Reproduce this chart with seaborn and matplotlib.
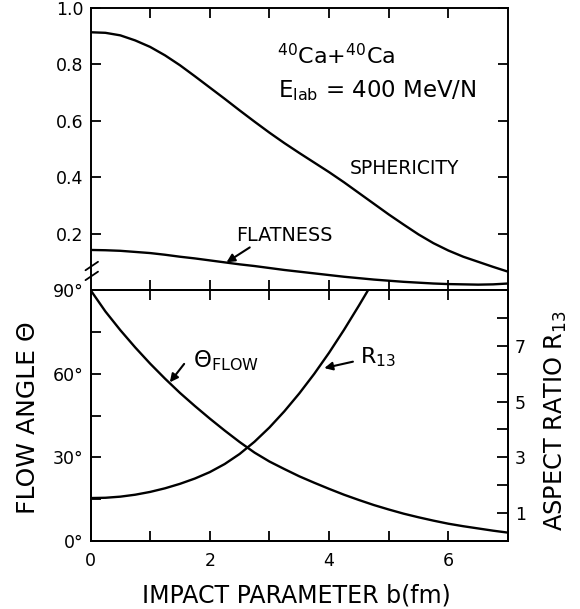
import numpy as np
import pandas as pd
import matplotlib
matplotlib.use("Agg")
import matplotlib.pyplot as plt
import seaborn as sns

# ---- data ----
b = [0, 0.25, 0.5, 0.75, 1, 1.25, 1.5, 1.75, 2, 2.25, 2.5, 2.75, 3, 3.25, 3.5,
     3.75, 4, 4.25, 4.5, 4.75, 5, 5.25, 5.5, 5.75, 6, 6.25, 6.5, 6.75, 7]
sphericity = [0.914, 0.912, 0.903, 0.885, 0.862, 0.832, 0.797, 0.758, 0.718,
              0.678, 0.637, 0.597, 0.558, 0.521, 0.486, 0.452, 0.418, 0.382,
              0.344, 0.306, 0.268, 0.232, 0.197, 0.166, 0.140, 0.118, 0.100,
              0.082, 0.065]
flatness = [0.142, 0.141, 0.139, 0.135, 0.131, 0.125, 0.118, 0.112, 0.105,
            0.098, 0.091, 0.085, 0.078, 0.071, 0.065, 0.059, 0.053, 0.047,
            0.042, 0.037, 0.033, 0.029, 0.026, 0.023, 0.021, 0.020, 0.019,
            0.020, 0.023]
flow_angle = [90, 82.3, 75.6, 69.4, 63.6, 58.2, 53.1, 48.4, 43.9, 39.6, 35.5,
              31.7, 28.5, 25.8, 23.2, 20.9, 18.7, 16.6, 14.7, 12.9, 11.3, 9.8,
              8.5, 7.3, 6.2, 5.3, 4.5, 3.7, 3.0]
b_r13 = [0, 0.25, 0.5, 0.75, 1, 1.25, 1.5, 1.75, 2, 2.25, 2.5, 2.75, 3, 3.25,
         3.5, 3.75, 4, 4.25, 4.5, 4.75]
r13 = [1.54, 1.55, 1.59, 1.66, 1.76, 1.89, 2.05, 2.24, 2.47, 2.76, 3.12, 3.56,
       4.07, 4.65, 5.29, 5.99, 6.75, 7.57, 8.44, 9.34]

top_yticks = [0.2, 0.4, 0.6, 0.8, 1.0]
top_ylabels = ["0.2", "0.4", "0.6", "0.8", "1.0"]
angle_major = [0, 30, 60, 90]
angle_labels = ["0°", "30°", "60°", "90°"]
angle_minor = [15, 45, 75]
r_major = [1, 3, 5, 7]
r_labels = ["1", "3", "5", "7"]
r_minor = [2, 4, 6, 8]
x_major = [0, 2, 4, 6]
x_labels = ["0", "2", "4", "6"]
x_minor = [1, 3, 5]

sns.set_style("ticks")
plt.rcParams["font.family"] = ["DejaVu Sans"]
for k in ("text.color", "axes.labelcolor", "xtick.color", "ytick.color",
          "axes.edgecolor"):
    plt.rcParams[k] = "black"

W, H = 580, 609
fig = plt.figure(figsize=(W / 100, H / 100), dpi=100)

def fx(px):
    return px / W

def fy(py):
    return 1 - py / H

L, R = 90.5, 508
ax1 = fig.add_axes([fx(L), fy(290), fx(R) - fx(L), fy(8) - fy(290)])
ax2 = fig.add_axes([fx(L), fy(541), fx(R) - fx(L), fy(290) - fy(541)])
ax3 = ax2.twinx()

lw = 1.7
df_top = pd.DataFrame({"b": b, "sph": sphericity, "flat": flatness, "flow": flow_angle})
df_r = pd.DataFrame({"b": b_r13, "r13": r13})
sns.lineplot(data=df_top, x="b", y="sph", ax=ax1, color="black", lw=lw)
sns.lineplot(data=df_top, x="b", y="flat", ax=ax1, color="black", lw=lw)
sns.lineplot(data=df_top, x="b", y="flow", ax=ax2, color="black", lw=lw)
sns.lineplot(data=df_r, x="b", y="r13", ax=ax3, color="black", lw=lw)

for ax in (ax1, ax2, ax3):
    for s in ax.spines.values():
        s.set_visible(True)
        s.set_linewidth(1.4)
        s.set_color("black")
    ax.set_xlabel("")
    ax.set_ylabel("")

ax1.set_xlim(0, 7)
ax1.set_ylim(0, 1.0)
ax1.set_xticks(list(range(1, 7)))
ax1.set_yticks(top_yticks)
ax1.set_yticklabels(top_ylabels)
ax1.tick_params(direction="in", length=7, width=1.3, top=True, bottom=True,
                left=True, right=True, labelbottom=False, labelsize=12.5,
                pad=5, colors="black")

ax2.set_xlim(0, 7)
ax2.set_ylim(0, 90)
ax2.set_xticks(x_major)
ax2.set_xticklabels(x_labels)
ax2.set_xticks(x_minor, minor=True)
ax2.set_yticks(angle_major)
ax2.set_yticklabels(angle_labels)
ax2.set_yticks(angle_minor, minor=True)
ax2.tick_params(which="both", direction="in", length=7, width=1.3, top=True,
                bottom=True, left=True, right=False, labelsize=12.5, pad=5)
ax2.tick_params(axis="x", pad=8)

ax3.set_ylim(0, 9)
ax3.set_yticks(r_major)
ax3.set_yticklabels(r_labels)
ax3.set_yticks(r_minor, minor=True)
ax3.tick_params(which="both", direction="in", length=8, width=1.3,
                labelsize=12.5, pad=5)

# break marks on left spine
for dy in (0.0, 0.035):
    ax1.plot([-0.012, 0.018], [0.035 + dy, 0.065 + dy], transform=ax1.transAxes,
             color="black", lw=1.3, clip_on=False)

# annotations top panel
ax1.text(3.12, 0.80, r"$^{40}$Ca$+^{40}$Ca", fontsize=16)
ax1.text(3.15, 0.683, r"E$_{\mathregular{lab}}$ = 400 MeV/N", fontsize=16.5)
ax1.text(4.34, 0.413, "SPHERICITY", fontsize=13.5)
ax1.text(2.45, 0.172, "FLATNESS", fontsize=13.8)
ax1.annotate("", xy=(2.28, 0.098), xytext=(2.67, 0.151),
             arrowprops=dict(arrowstyle="-|>", color="black", lw=1.5,
                             mutation_scale=12, shrinkA=0, shrinkB=0))

# annotations bottom panel
ax2.text(1.72, 62.3, r"$\Theta_{\mathregular{FLOW}}$", fontsize=16.5)
ax2.annotate("", xy=(1.33, 56.9), xytext=(1.57, 63.5),
             arrowprops=dict(arrowstyle="-|>", color="black", lw=1.5,
                             mutation_scale=12, shrinkA=0, shrinkB=0))
ax2.text(4.52, 63.6, r"R$_{13}$", fontsize=16)
ax2.annotate("", xy=(3.92, 62.0), xytext=(4.40, 64.3),
             arrowprops=dict(arrowstyle="-|>", color="black", lw=1.5,
                             mutation_scale=12, shrinkA=0, shrinkB=0))

# axis labels
fig.text(fx(296), fy(595), "IMPACT PARAMETER b(fm)", fontsize=17,
         ha="center", va="center")
fig.text(fx(28), fy(418), "FLOW ANGLE Θ", fontsize=18,
         ha="center", va="center", rotation=90)
fig.text(fx(556), fy(421), r"ASPECT RATIO R$_{13}$", fontsize=17.3,
         ha="center", va="center", rotation=90)

fig.savefig("out.png", dpi=100, facecolor="white")
